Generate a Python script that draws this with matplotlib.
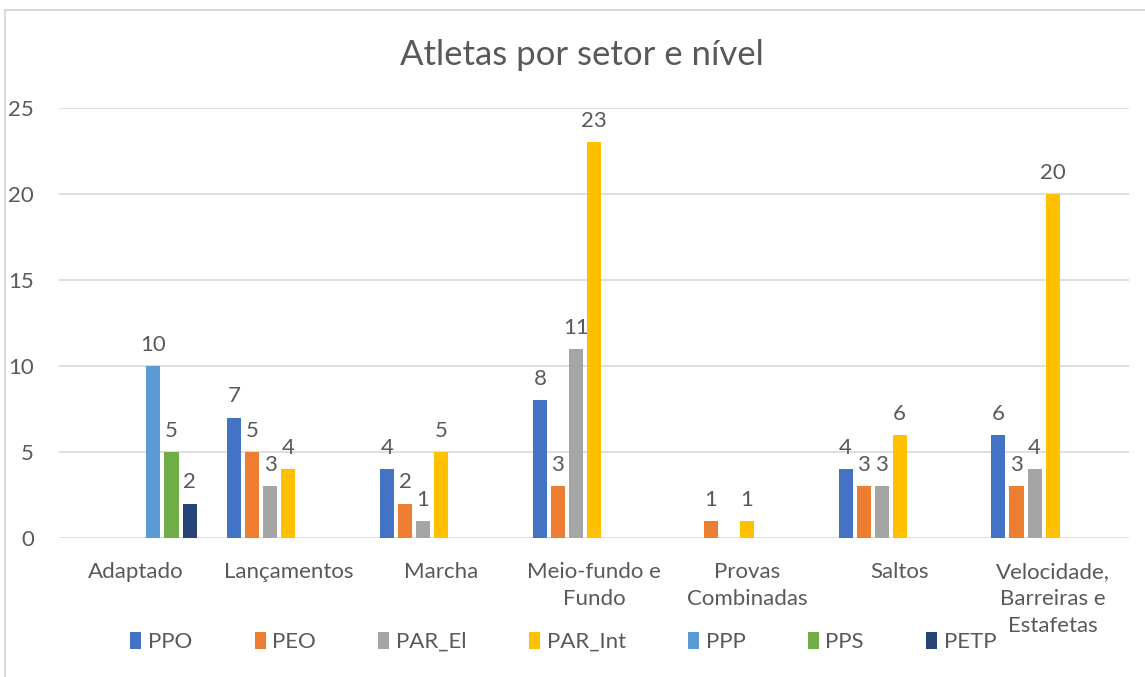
import numpy as np
import matplotlib.pyplot as plt
from matplotlib.patches import Rectangle

plt.rcParams['font.family'] = ['Lato', 'DejaVu Sans']

categories = ['Adaptado', 'Lançamentos', 'Marcha', 'Meio-fundo e\nFundo',
              'Provas\nCombinadas', 'Saltos', 'Velocidade,\nBarreiras e\nEstafetas']
series_names = ['PPO', 'PEO', 'PAR_El', 'PAR_Int', 'PPP', 'PPS', 'PETP']
ppo = [0, 7, 4, 8, 0, 4, 6]
peo = [0, 5, 2, 3, 1, 3, 3]
par_el = [0, 3, 1, 11, 0, 3, 4]
par_int = [0, 4, 5, 23, 1, 6, 20]
ppp = [10, 0, 0, 0, 0, 0, 0]
pps = [5, 0, 0, 0, 0, 0, 0]
petp = [2, 0, 0, 0, 0, 0, 0]
colors = ['#4472C4', '#ED7D31', '#A5A5A5', '#FFC000', '#5B9BD5', '#70AD47', '#264478']

all_series = [ppo, peo, par_el, par_int, ppp, pps, petp]
txt = '#595959'

fig = plt.figure(figsize=(11.45, 6.77), dpi=100)
fig.patches.append(Rectangle((5 / 1145, -0.01), 1.01, 1 - 10 / 677 + 0.01, transform=fig.transFigure,
                             fill=False, edgecolor='#D9D9D9', linewidth=1.5))
ax = fig.add_axes([59 / 1145, 1 - 538 / 677, 1070 / 1145, 430 / 677])

x = np.arange(len(categories))
slot = 0.118
width = 0.092
for i, (name, vals, c) in enumerate(zip(series_names, all_series, colors)):
    v = np.array(vals, dtype=float)
    v[v == 0] = np.nan
    pos = x + (i - 3) * slot
    ax.bar(pos, v, width=width, color=c, label=name, zorder=3)
    for p, val in zip(pos, vals):
        if val:
            ax.annotate(str(val), (p, val), xytext=(0, 8), textcoords='offset points',
                        ha='center', va='bottom', fontsize=16, color=txt)

ax.set_xlim(-0.5, len(categories) - 0.5)
ax.set_ylim(0, 25)
ax.set_yticks(range(0, 26, 5))
ax.yaxis.grid(True, color='#D9D9D9', linewidth=1.2, zorder=0)
ax.set_axisbelow(True)
for s in ax.spines.values():
    s.set_visible(False)
ax.set_xticks(x)
ax.set_xticklabels(categories, linespacing=1.45)
ax.tick_params(axis='both', length=0, labelsize=16, labelcolor=txt)
ax.tick_params(axis='x', pad=17)
ax.tick_params(axis='y', pad=18)

fig.text(0.508, 1 - 55 / 677, 'Atletas por setor e nível', ha='center', va='center',
         fontsize=25, color=txt)

fig.legend(loc='center', bbox_to_anchor=(0.492, 1 - 642 / 677), ncol=7, frameon=False,
           fontsize=16, handlelength=0.5, handleheight=0.8, handletextpad=0.3,
           columnspacing=2.8, labelcolor=txt)

fig.savefig('out.png', dpi=100)
